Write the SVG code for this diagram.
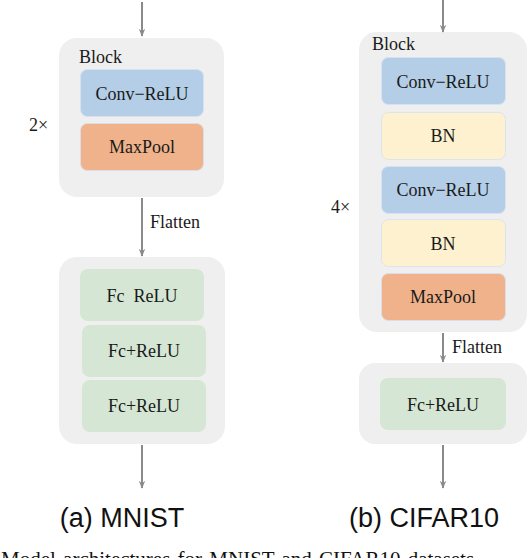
<svg xmlns="http://www.w3.org/2000/svg" width="528" height="558" viewBox="0 0 528 558">
<defs>
<marker id="ah" viewBox="0 0 10 10" refX="9" refY="5" markerWidth="4" markerHeight="4" orient="auto" markerUnits="strokeWidth">
<path d="M0,1 L10,5 L0,9 L3,5 z" fill="#8a8a8a"/>
</marker>
<style>
.outer{fill:#efefef;}
.conv{fill:#b4cee8;stroke:#d6e2f0;stroke-width:1;}
.pool{fill:#f0b28a;stroke:#dcdde8;stroke-width:1;}
.bn{fill:#fdf1d0;stroke:#dde3ee;stroke-width:1;}
.fc{fill:#d5e7d4;}
.t{font-family:"Liberation Serif","Times New Roman",serif;font-size:18px;fill:#1a1a1a;text-anchor:middle;}
.l{font-family:"Liberation Serif","Times New Roman",serif;font-size:18px;fill:#1a1a1a;}
.cap{font-family:"Liberation Sans",Arial,sans-serif;font-size:27px;fill:#111;text-anchor:middle;}
.arr{stroke:#8a8a8a;stroke-width:2;fill:none;marker-end:url(#ah);}
</style>
</defs>
<rect width="528" height="558" fill="#ffffff"/>

<g id="mnist-block">
<rect class="outer" x="59" y="38" width="165" height="159" rx="18"/>
<text class="l" x="79" y="63">Block</text>
<text class="l" x="29" y="131">2×</text>
</g>
<g id="mnist-conv"><rect class="conv" x="80.5" y="69.5" width="123" height="47" rx="7"/><text class="t" x="142" y="100">Conv−ReLU</text></g>
<g id="mnist-pool"><rect class="pool" x="80.5" y="123.5" width="123" height="47" rx="7"/><text class="t" x="142" y="153">MaxPool</text></g>

<g id="mnist-fcblock"><rect class="outer" x="59" y="257" width="166" height="187" rx="18"/></g>
<g id="mnist-fc1"><rect class="fc" x="80" y="269" width="124" height="52" rx="8"/><text class="t" x="142" y="302" xml:space="preserve">Fc  ReLU</text></g>
<g id="mnist-fc2"><rect class="fc" x="82" y="325" width="124" height="52" rx="8"/><text class="t" x="144" y="357">Fc+ReLU</text></g>
<g id="mnist-fc3"><rect class="fc" x="82" y="380" width="124" height="52" rx="8"/><text class="t" x="144" y="412">Fc+ReLU</text></g>

<g id="cifar-block">
<rect class="outer" x="359" y="32" width="168" height="300" rx="18"/>
<text class="l" x="372" y="50">Block</text>
<text class="l" x="331" y="213">4×</text>
</g>
<g id="cifar-conv1"><rect class="conv" x="381.5" y="57.5" width="124" height="47" rx="7"/><text class="t" x="443" y="88">Conv−ReLU</text></g>
<g id="cifar-bn1"><rect class="bn" x="381.5" y="112.5" width="124" height="47" rx="7"/><text class="t" x="443" y="142">BN</text></g>
<g id="cifar-conv2"><rect class="conv" x="381.5" y="166.5" width="124" height="47" rx="7"/><text class="t" x="443" y="196">Conv−ReLU</text></g>
<g id="cifar-bn2"><rect class="bn" x="381.5" y="219.5" width="124" height="47" rx="7"/><text class="t" x="443" y="250">BN</text></g>
<g id="cifar-pool"><rect class="pool" x="381.5" y="273.5" width="124" height="47" rx="7"/><text class="t" x="443" y="303">MaxPool</text></g>

<g id="cifar-fcblock"><rect class="outer" x="359" y="363" width="168" height="81" rx="16"/></g>
<g id="cifar-fc1"><rect class="fc" x="380" y="378" width="126" height="52" rx="8"/><text class="t" x="443" y="411">Fc+ReLU</text></g>

<g id="connectors">
<line class="arr" x1="142" y1="2" x2="142" y2="36"/>
<line class="arr" x1="142" y1="198" x2="142" y2="256"/>
<line class="arr" x1="142" y1="445" x2="142" y2="488"/>
<line class="arr" x1="443" y1="0" x2="443" y2="32"/>
<line class="arr" x1="443" y1="333" x2="443" y2="362"/>
<line class="arr" x1="443" y1="445" x2="443" y2="488"/>
<text class="l" x="150" y="228">Flatten</text>
<text class="l" x="452" y="353">Flatten</text>
</g>

<g id="captions">
<text class="cap" x="122" y="527">(a) MNIST</text>
<text class="cap" x="424" y="527">(b) CIFAR10</text>
<text x="1" y="566" style="font-family:'Liberation Serif','Times New Roman',serif;font-size:21px;fill:#111;word-spacing:2px">Model architectures for MNIST and CIFAR10 datasets</text>
</g>
</svg>
